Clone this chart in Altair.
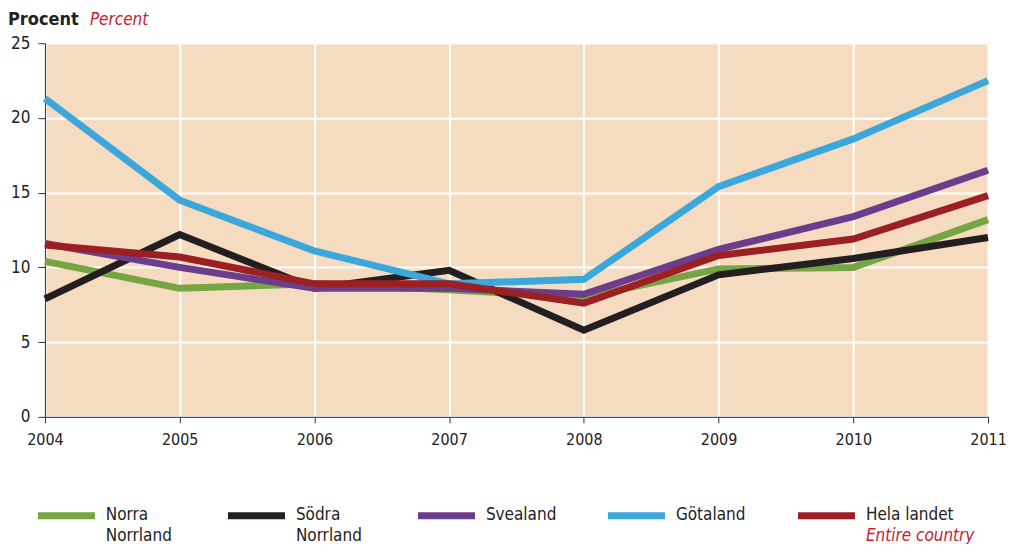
import altair as alt
import pandas as pd

years = [2004, 2005, 2006, 2007, 2008, 2009, 2010, 2011]
norra_norrland = [10.4, 8.6, 8.9, 8.5, 8.0, 9.9, 10.0, 13.2]
sodra_norrland = [7.9, 12.2, 8.6, 9.8, 5.8, 9.5, 10.6, 12.0]
svealand = [11.6, 10.0, 8.6, 8.6, 8.2, 11.2, 13.4, 16.5]
gotaland = [21.3, 14.5, 11.1, 8.9, 9.2, 15.4, 18.6, 22.5]
hela_landet = [11.5, 10.7, 8.9, 8.9, 7.6, 10.8, 11.9, 14.8]

series_names = ["Norra Norrland", "Södra Norrland", "Svealand", "Götaland", "Hela landet"]
legend_labels = ["Norra\nNorrland", "Södra\nNorrland", "Svealand", "Götaland", "Hela landet"]
legend_sub = ["", "", "", "", "Entire country"]
colors = ["#76a544", "#231f20", "#6c3d8b", "#3ba7da", "#9b1f23"]
y_ticks = [0, 5, 10, 15, 20, 25]

FONT = "Liberation Sans Narrow, DejaVu Sans Condensed, Liberation Sans, sans-serif"

values = [norra_norrland, sodra_norrland, svealand, gotaland, hela_landet]
rows = []
for order, (name, vals) in enumerate(zip(series_names, values)):
    for yr, v in zip(years, vals):
        rows.append({"year": yr, "value": v, "series": name, "order": order})
df = pd.DataFrame(rows)

leg = pd.DataFrame({
    "idx": list(range(len(series_names))),
    "series": series_names,
    "label": legend_labels,
    "sub": legend_sub,
})

W, H = 944, 374

lines = alt.Chart(df).mark_line(strokeWidth=7, strokeCap="butt", strokeJoin="miter").encode(
    x=alt.X("year:Q", scale=alt.Scale(domain=[years[0], years[-1]], nice=False),
            axis=alt.Axis(values=years, format="d", title=None, grid=True, gridColor="white",
                          gridWidth=2, tickSize=6, labelPadding=9, labelFontSize=16,
                          labelFont=FONT, labelColor="#222", domainColor="#333",
                          tickColor="#333", labelFlush=False)),
    y=alt.Y("value:Q", scale=alt.Scale(domain=[0, 25], nice=False),
            axis=alt.Axis(values=y_ticks, title=None, grid=True, gridColor="white",
                          gridWidth=2, tickSize=7, labelPadding=8, labelFontSize=17,
                          labelFont=FONT, labelColor="#222", domainColor="#333",
                          tickColor="#333")),
    color=alt.Color("series:N", scale=alt.Scale(domain=series_names, range=colors), legend=None),
    order=alt.Order("order:Q"),
    detail="series:N",
)

title1 = alt.Chart(pd.DataFrame({"t": ["Procent"]})).mark_text(
    align="left", baseline="top", fontSize=18, fontWeight="bold", font=FONT, color="#222"
).encode(x=alt.value(-37), y=alt.value(-32), text="t:N")

title2 = alt.Chart(pd.DataFrame({"t": ["Percent"]})).mark_text(
    align="left", baseline="top", fontSize=17, fontStyle="italic", font=FONT, color="#c8202f"
).encode(x=alt.value(45), y=alt.value(-31), text="t:N")

leg_scale = alt.Scale(domain=[0.037, 5.0], nice=False, zero=False)

leg_sym = alt.Chart(leg).transform_calculate(x2="datum.idx + 0.3").mark_rule(
    strokeWidth=7, strokeCap="butt"
).encode(
    x=alt.X("idx:Q", scale=leg_scale, axis=None),
    x2="x2:Q",
    y=alt.value(H + 99),
    color=alt.Color("series:N", scale=alt.Scale(domain=series_names, range=colors), legend=None),
)

leg_text = alt.Chart(leg).mark_text(
    align="left", baseline="top", fontSize=17, font=FONT, color="#222", lineBreak="\n",
    dx=68, lineHeight=21
).encode(
    x=alt.X("idx:Q", scale=leg_scale, axis=None),
    y=alt.value(H + 90),
    text="label:N",
)

leg_sub = alt.Chart(leg).transform_filter("datum.sub != ''").mark_text(
    align="left", baseline="top", fontSize=17, font=FONT, color="#c8202f", fontStyle="italic",
    dx=68
).encode(
    x=alt.X("idx:Q", scale=leg_scale, axis=None),
    y=alt.value(H + 111),
    text="sub:N",
)

chart = alt.layer(lines, title1, title2, leg_sym, leg_text, leg_sub).resolve_scale(
    x="independent"
).properties(
    width=W, height=H, padding={"left": 0, "top": 3, "right": 0, "bottom": 0}
).configure_view(
    fill="#f5dcc0", stroke="#444", strokeWidth=1
)

chart.save("out.html", embed_options={"renderer": "svg", "actions": False})
